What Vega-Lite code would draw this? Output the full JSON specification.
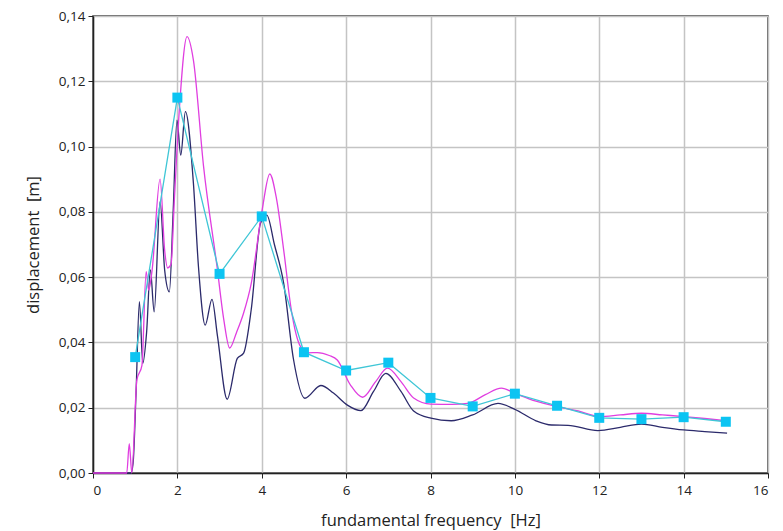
{
  "$schema": "https://vega.github.io/schema/vega-lite/v6.json",
  "width": 675,
  "height": 457,
  "autosize": "none",
  "padding": {"left": 93, "top": 16, "right": 15, "bottom": 58},
  "background": "white",
  "config": {
    "font": "Open Sans",
    "view": {"stroke": "#333333", "strokeWidth": 1.5}
  },
  "datasets": {
    "magenta": [
      {"f":0,"d":0},{"f":0.8,"d":0},{"f":0.86,"d":0.009},{"f":0.92,"d":0},{"f":1.04,"d":0.0285},{"f":1.16,"d":0.033},{"f":1.26,"d":0.0617},{"f":1.32,"d":0.056},{"f":1.4,"d":0.062},{"f":1.59,"d":0.09},{"f":1.7,"d":0.068},{"f":1.77,"d":0.0628},{"f":1.85,"d":0.064},{"f":1.93,"d":0.084},{"f":2.05,"d":0.112},{"f":2.23,"d":0.1337},{"f":2.38,"d":0.1265},{"f":2.62,"d":0.094},{"f":2.94,"d":0.0632},{"f":3.1,"d":0.047},{"f":3.24,"d":0.0383},{"f":3.4,"d":0.043},{"f":3.57,"d":0.049},{"f":3.75,"d":0.058},{"f":4.01,"d":0.0806},{"f":4.19,"d":0.0916},{"f":4.35,"d":0.084},{"f":4.52,"d":0.0683},{"f":4.7,"d":0.05},{"f":4.92,"d":0.0387},{"f":5.1,"d":0.0368},{"f":5.32,"d":0.0369},{"f":5.6,"d":0.036},{"f":5.79,"d":0.0346},{"f":6.1,"d":0.027},{"f":6.39,"d":0.0232},{"f":6.7,"d":0.028},{"f":6.98,"d":0.0321},{"f":7.3,"d":0.028},{"f":7.6,"d":0.023},{"f":8.01,"d":0.0211},{"f":8.5,"d":0.021},{"f":8.88,"d":0.0213},{"f":9.3,"d":0.024},{"f":9.68,"d":0.026},{"f":10.0,"d":0.0244},{"f":10.5,"d":0.022},{"f":11.02,"d":0.0203},{"f":11.5,"d":0.019},{"f":12.01,"d":0.0173},{"f":12.5,"d":0.0178},{"f":13.0,"d":0.0183},{"f":13.5,"d":0.0178},{"f":14.0,"d":0.0173},{"f":14.5,"d":0.0167},{"f":15.0,"d":0.016}
    ],
    "navy": [
      {"f":0,"d":0},{"f":0.9,"d":0},{"f":0.95,"d":0.003},{"f":1.02,"d":0.0244},{"f":1.1,"d":0.0525},{"f":1.18,"d":0.0336},{"f":1.27,"d":0.043},{"f":1.36,"d":0.0622},{"f":1.45,"d":0.0494},{"f":1.59,"d":0.0831},{"f":1.7,"d":0.062},{"f":1.81,"d":0.0555},{"f":1.9,"d":0.08},{"f":1.99,"d":0.1081},{"f":2.08,"d":0.0974},{"f":2.19,"d":0.1107},{"f":2.38,"d":0.0888},{"f":2.5,"d":0.0632},{"f":2.66,"d":0.0453},{"f":2.82,"d":0.0532},{"f":2.95,"d":0.042},{"f":3.18,"d":0.0226},{"f":3.42,"d":0.0351},{"f":3.57,"d":0.0367},{"f":3.75,"d":0.05},{"f":3.97,"d":0.0765},{"f":4.12,"d":0.079},{"f":4.3,"d":0.07},{"f":4.52,"d":0.0581},{"f":4.75,"d":0.035},{"f":5.02,"d":0.0229},{"f":5.4,"d":0.0268},{"f":5.7,"d":0.0245},{"f":6.03,"d":0.0208},{"f":6.35,"d":0.0191},{"f":6.65,"d":0.025},{"f":6.94,"d":0.0305},{"f":7.3,"d":0.025},{"f":7.6,"d":0.019},{"f":8.01,"d":0.0168},{"f":8.49,"d":0.016},{"f":9.0,"d":0.0178},{"f":9.6,"d":0.0213},{"f":10.0,"d":0.0195},{"f":10.5,"d":0.016},{"f":10.87,"d":0.0147},{"f":11.26,"d":0.0146},{"f":11.97,"d":0.013},{"f":12.5,"d":0.014},{"f":13.0,"d":0.015},{"f":13.5,"d":0.014},{"f":14.0,"d":0.0132},{"f":14.5,"d":0.0127},{"f":15.03,"d":0.0122}
    ],
    "cyan": [
      {"f":1,"d":0.0355},{"f":2,"d":0.115},{"f":3,"d":0.061},{"f":4,"d":0.0786},{"f":5,"d":0.037},{"f":6,"d":0.0314},{"f":7,"d":0.0338},{"f":8,"d":0.023},{"f":9,"d":0.0204},{"f":10,"d":0.0243},{"f":11,"d":0.0206},{"f":12,"d":0.0169},{"f":13,"d":0.0165},{"f":14,"d":0.0171},{"f":15,"d":0.0157}
    ]
  },
  "encoding": {
    "x": {
      "field": "f", "type": "quantitative",
      "scale": {"domain": [0, 16], "nice": false, "zero": false},
      "axis": {
        "title": "fundamental frequency\u00a0 [Hz]",
        "values": [0,2,4,6,8,10,12,14,16],
        "grid": true, "gridColor": "#c4c4c4", "gridWidth": 1.5,
        "domainColor": "#222222", "domainWidth": 1.5,
        "tickColor": "#222222", "tickSize": 5,
        "labelFontSize": 13.5, "labelColor": "#222222", "labelPadding": 5,
        "titleFontSize": 16.5, "titleFontWeight": "normal", "titleColor": "#222222", "titlePadding": 16
      }
    },
    "y": {
      "field": "d", "type": "quantitative",
      "scale": {"domain": [0, 0.14], "nice": false},
      "axis": {
        "title": "displacement\u00a0 [m]",
        "values": [0,0.02,0.04,0.06,0.08,0.1,0.12,0.14],
        "labelExpr": "replace(format(datum.value, '.2f'), '.', ',')",
        "grid": true, "gridColor": "#c4c4c4", "gridWidth": 1.5,
        "domainColor": "#222222", "domainWidth": 1.5,
        "tickColor": "#222222", "tickSize": 5,
        "labelFontSize": 13.5, "labelColor": "#222222", "labelPadding": 3,
        "titleFontSize": 16.5, "titleFontWeight": "normal", "titleColor": "#222222", "titlePadding": 17
      }
    }
  },
  "layer": [
    {
      "data": {"name": "navy"},
      "mark": {"type": "line", "interpolate": "monotone", "color": "#2b2a6b", "strokeWidth": 1.3}
    },
    {
      "data": {"name": "magenta"},
      "mark": {"type": "line", "interpolate": "monotone", "color": "#e03ee0", "strokeWidth": 1.3}
    },
    {
      "data": {"name": "cyan"},
      "mark": {"type": "line", "color": "#3fc6d6", "strokeWidth": 1.3}
    },
    {
      "data": {"name": "cyan"},
      "mark": {"type": "square", "color": "#0cc4f2", "opacity": 1, "size": 100, "filled": true}
    }
  ]
}
